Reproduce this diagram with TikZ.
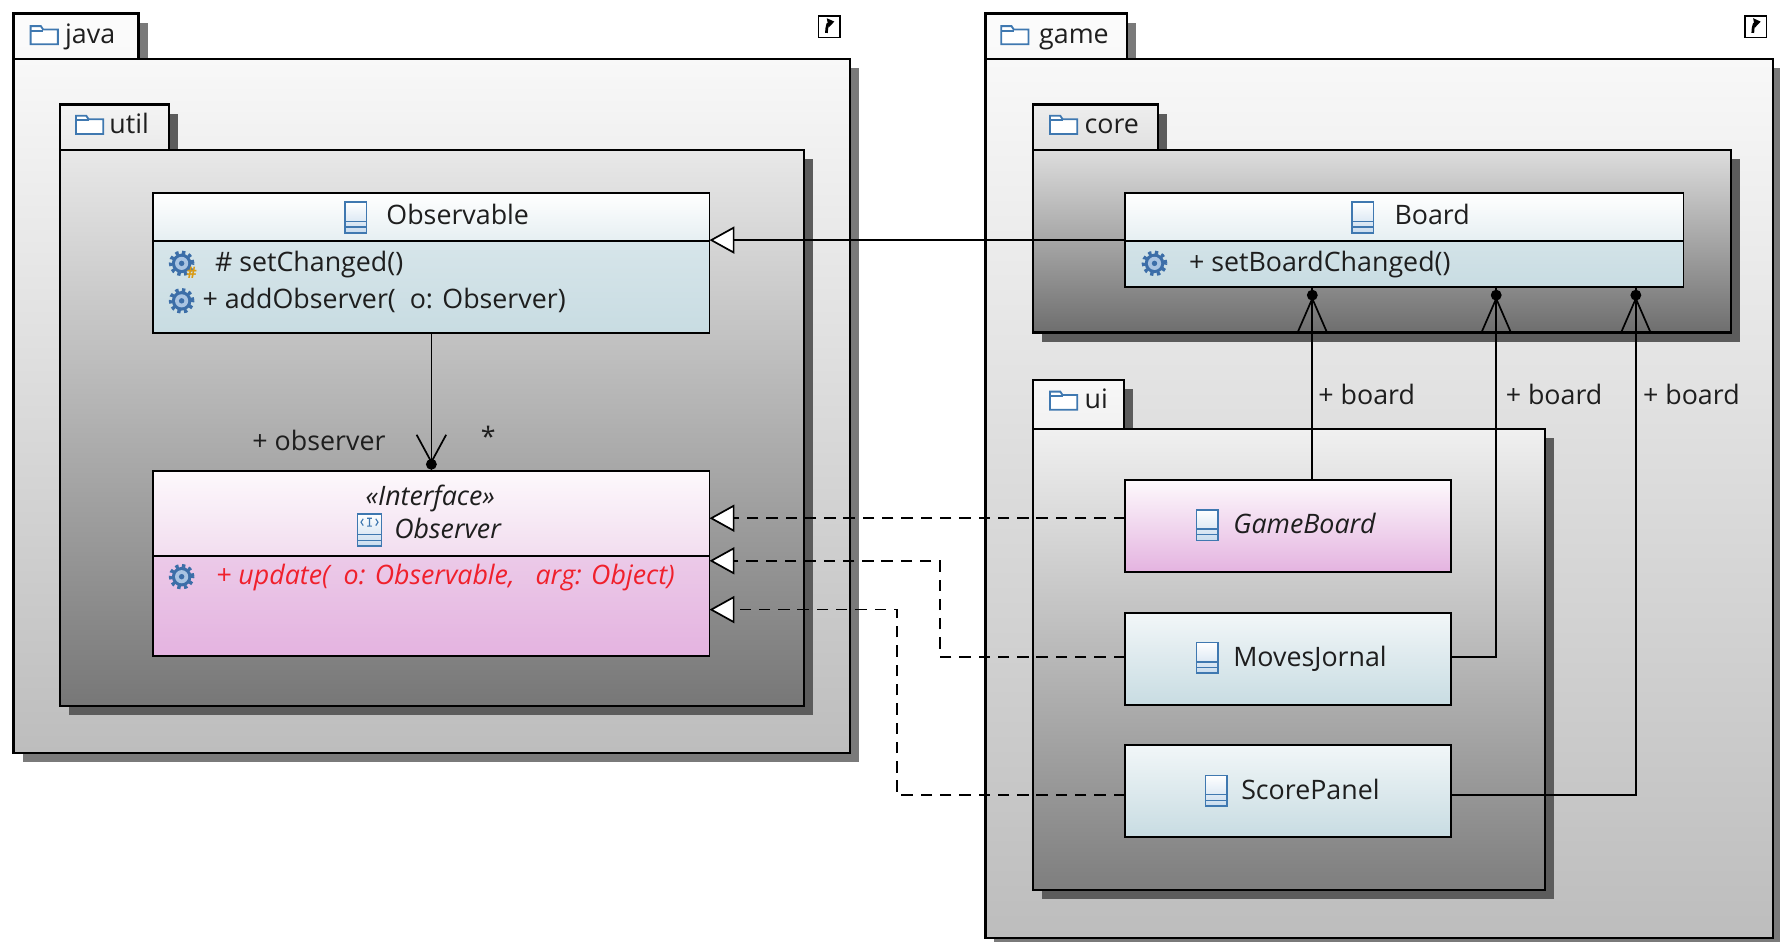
\documentclass[tikz,border=0pt]{standalone}
\usepackage{fontspec}
\setmainfont{Open Sans}
\usetikzlibrary{arrows.meta,calc}
\definecolor{icoblue}{HTML}{3F78B0}
\definecolor{icofill}{HTML}{C9DCEE}
\definecolor{gearblue}{HTML}{3C6EA8}
\definecolor{gearlight}{HTML}{A9C4E2}
\definecolor{bluehdtop}{HTML}{FFFFFF}
\definecolor{bluehdbot}{HTML}{E6EFF2}
\definecolor{bluebdtop}{HTML}{DEEAEE}
\definecolor{bluebdbot}{HTML}{C8DCE2}
\definecolor{pinktop}{HTML}{FDF9FC}
\definecolor{pinkmid}{HTML}{F2DDEF}
\definecolor{pinkbot}{HTML}{E4B3E0}
\definecolor{opred}{HTML}{F0202C}
\definecolor{shadowA}{HTML}{7A7A7A}
\definecolor{shadowB}{HTML}{5C5C5C}
\definecolor{txtcol}{HTML}{1E1E1E}
\definecolor{hashcol}{HTML}{D99A14}
\definecolor{javatop}{HTML}{F8F8F8}
\definecolor{javabot}{HTML}{BDBDBD}
\definecolor{utiltop}{HTML}{E8E8E8}
\definecolor{utilbot}{HTML}{777777}
\definecolor{coretop}{HTML}{DDDDDD}
\definecolor{corebot}{HTML}{6E6E6E}
\definecolor{uitop}{HTML}{F0F0F0}
\definecolor{uibot}{HTML}{7E7E7E}

\tikzset{
  pkgline/.style={draw=black, line width=1pt},
  classbox/.style={draw=black, line width=0.8pt, rectangle, inner sep=0pt, outer sep=0pt},
  lbl/.style={font=\fontsize{11.8}{14}\selectfont, text=txtcol, inner sep=0pt, anchor=west, text height=9pt, text depth=2pt},
  conn/.style={draw=black, line width=0.75pt},
  realize/.style={conn, dash pattern=on 5pt off 3.5pt},
  hollowtri/.style={-{Triangle[length=11pt,width=12pt,fill=white]}},
  folder/.pic={
    \draw[icoblue, line width=0.8pt, fill=white] (0,1) -- (9,1) -- (11,4) -- (24,4) -- (24,17) -- (0,17) -- cycle;
    \draw[icoblue, line width=0.8pt] (0,5) -- (11,5);
  },
  clsicon/.pic={
    \draw[icoblue, line width=0.7pt, top color=white, bottom color=icofill] (0,0) rectangle (19,27);
    \draw[icoblue, line width=0.7pt] (0,17) -- (19,17) (0,22) -- (19,22);
  },
  ifaceicon/.pic={
    \draw[icoblue, line width=0.7pt, top color=white, bottom color=icofill] (0,0) rectangle (21,28);
    \draw[icoblue, line width=0.7pt] (0,18) -- (21,18) (0,23) -- (21,23);
    \draw[icoblue, line width=0.5pt] (5,4) -- (3,7) -- (5,10) (16,4) -- (18,7) -- (16,10) (10.5,3.5) -- (10.5,10.5) (8.5,3.5) -- (12.5,3.5) (8.5,10.5) -- (12.5,10.5);
  },
  gear/.pic={
    \draw[gearblue, line width=1.5pt, dash pattern=on 1.5pt off 1.5pt] (0,0) circle (4.9pt);
    \fill[gearblue] (0,0) circle (4.3pt);
    \fill[gearlight] (0,0) circle (2.9pt);
    \fill[gearblue] (0,0) circle (1.2pt);
  },
  shortcut/.pic={
    \draw[black, line width=0.6pt, fill=white] (0,0) rectangle (19,19);
    \draw[black, line width=1.2pt, -{Triangle[length=3pt,width=4pt]}] (7,15) .. controls (7,9) and (9,6) .. (14,5);
  }
}

\newcommand\drawpkg[9]{%
  \fill[#9] (#2,#3+8) rectangle (#2+8,#4);
  \fill[#9] (#1+8,#4+8) rectangle (#5+8,#6+8);
  \draw[pkgline, top color=#7!50!white, bottom color=#7!90!white] (#1,#3) rectangle (#2,#4);
  \draw[pkgline, top color=#7, bottom color=#8] (#1,#4) rectangle (#5,#6);
}

\begin{document}
\begin{tikzpicture}[x=0.5pt,y=-0.5pt]
\useasboundingbox[fill=white] (0,0) rectangle (1568,829);

% packages
\drawpkg{12}{122}{12}{52}{749}{663}{javatop}{javabot}{shadowA}
\drawpkg{53}{149}{92}{132}{708}{622}{utiltop}{utilbot}{shadowB}
\drawpkg{868}{993}{12}{52}{1562}{826}{javatop}{javabot}{shadowA}
\drawpkg{910}{1020}{92}{132}{1525}{293}{coretop}{corebot}{shadowB}
\drawpkg{910}{990}{335}{378}{1361}{784}{uitop}{uibot}{shadowB}

\pic at (27,22) {folder};
\node[lbl] (tjava) at (57,31) {java};
\pic at (67,101) {folder};
\node[lbl] (tutil) at (96,111) {util};
\pic at (882,22) {folder};
\node[lbl] (tgame) at (915,31) {game};
\pic at (925,101) {folder};
\node[lbl] (tcore) at (955,111) {core};
\pic at (925,344) {folder};
\node[lbl] (tui) at (955,353) {ui};

\pic at (721,14) {shortcut};
\pic at (1537,14) {shortcut};

% classes
\node[classbox, minimum width=245pt, minimum height=61.5pt, top color=bluebdtop, bottom color=bluebdbot] (obs) at (380,231.5) {};
\draw[black, line width=0.8pt, top color=bluehdtop, bottom color=bluehdbot] (obs.north west) rectangle ($(obs.north east)+(0,42)$);

\node[classbox, minimum width=245pt, minimum height=81.5pt, top color=pinkmid, bottom color=pinkbot] (ob) at (380,496.5) {};
\draw[black, line width=0.8pt, top color=pinktop, bottom color=pinkmid] (ob.north west) rectangle ($(ob.north east)+(0,75)$);

\node[classbox, minimum width=246pt, minimum height=41.5pt, top color=bluebdtop, bottom color=bluebdbot] (board) at (1237,211.5) {};
\draw[black, line width=0.8pt, top color=bluehdtop, bottom color=bluehdbot] (board.north west) rectangle ($(board.north east)+(0,42)$);

\node[classbox, minimum width=143.5pt, minimum height=40.5pt, top color=pinktop, bottom color=pinkbot] (gb) at (1134.5,463.5) {};
\node[classbox, minimum width=143.5pt, minimum height=40.5pt, top color=white!60!bluebdtop, bottom color=bluebdbot] (mj) at (1134.5,580.5) {};
\node[classbox, minimum width=143.5pt, minimum height=40.5pt, top color=white!60!bluebdtop, bottom color=bluebdbot] (sp) at (1134.5,696.5) {};

% class texts
\pic at (304,178) {clsicon};
\node[lbl] (nobs) at (340,191) {Observable};
\pic at (160,232) {gear};
\node[font=\fontsize{7}{7}\selectfont\bfseries, text=hashcol, inner sep=0pt] (hashmark) at (169,240) {\#};
\node[lbl] (op1) at (189,232) {\# setChanged()};
\pic at (160,265) {gear};
\node[lbl] (op2) at (178,265) {+ addObserver(~~o: Observer)};

\node[lbl, anchor=center] (stereo) at (379,438) {\itshape «Interface»};
\pic at (315,453) {ifaceicon};
\node[lbl] (nob) at (347,467) {\itshape Observer};
\pic at (160,508) {gear};
\node[lbl, text=opred] (op3) at (190,508) {\itshape + update(~~o: Observable,~~~arg: Object)};

\pic at (1191,178) {clsicon};
\node[lbl] (nboard) at (1228,191) {Board};
\pic at (1017,232) {gear};
\node[lbl] (op4) at (1047,232) {+ setBoardChanged()};

\pic at (1054,449) {clsicon};
\node[lbl] (ngb) at (1086,463) {\itshape GameBoard};
\pic at (1054,566) {clsicon};
\node[lbl] (nmj) at (1086,580) {MovesJornal};
\pic at (1062,683) {clsicon};
\node[lbl] (nsp) at (1093,697) {ScorePanel};

% connectors
\draw[conn, hollowtri] (board.west) -- (board.west -| obs.east);

\coordinate (g1) at ([yshift=3.5pt]gb.west);
\draw[realize, hollowtri] (g1) -- (g1 -| ob.east);
\coordinate (m1) at ([yshift=1pt]mj.west);
\coordinate (k1) at (828,494);
\draw[realize, hollowtri] (m1) -| (k1) -- (k1 -| ob.east);
\coordinate (s1) at ([yshift=-2pt]sp.west);
\coordinate (k2) at (790,537);
\draw[realize, hollowtri] (s1) -| (k2) -- (k2 -| ob.east);

% Observable -> Observer
\draw[conn] (obs.south) -- (ob.north);
\fill ($(ob.north)+(0,-6)$) circle (2.4pt);
\draw[conn] ($(ob.north)+(-13,-32)$) -- ($(ob.north)+(0,-8)$) -- ($(ob.north)+(13,-32)$);
\node[lbl] (lobs) at (222,390) {+ observer};
\node[lbl, anchor=center] (lstar) at (430,386) {*};

% Board <- ui classes
\coordinate (x1) at (1156,0);
\coordinate (x2) at (1318,0);
\coordinate (x3) at (1441,0);
\coordinate (e1) at (board.south -| x1);
\coordinate (e2) at (board.south -| x2);
\coordinate (e3) at (board.south -| x3);
\draw[conn] (gb.north -| x1) -- (e1);
\coordinate (m2) at ([yshift=1pt]mj.east);
\draw[conn] (m2) -| (e2);
\coordinate (s2) at ([yshift=-2pt]sp.east);
\draw[conn] (s2) -| (e3);
\foreach \e in {e1,e2,e3}{
  \fill ($(\e)+(0,7)$) circle (2.4pt);
  \draw[conn] ($(\e)+(-13,40)$) -- ($(\e)+(0,10)$) -- ($(\e)+(13,40)$);
}
\node[lbl] (lb1) at (1161,349) {+ board};
\node[lbl] (lb2) at (1326,349) {+ board};
\node[lbl] (lb3) at (1447,349) {+ board};
\end{tikzpicture}
\end{document}
